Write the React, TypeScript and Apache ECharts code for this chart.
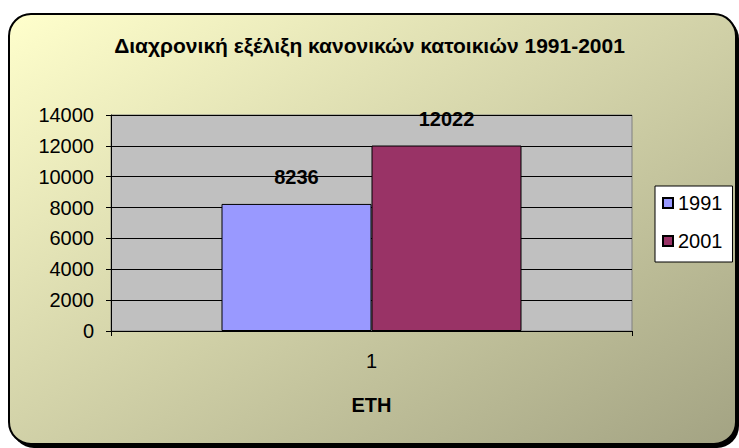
import React, { useEffect, useRef } from "react";
import * as echarts from "echarts";

const titleText = "Διαχρονική εξέλιξη κανονικών κατοικιών 1991-2001";
const categories = ["1"];
const seriesNames = ["1991", "2001"];
const values1991 = [8236];
const values2001 = [12022];
const xAxisName = "ΕΤΗ";

const FONT = "'Liberation Sans', Arial, sans-serif";

export default function App() {
  const ref = useRef<HTMLDivElement>(null);
  useEffect(() => {
    if (!ref.current) return;
    const chart = echarts.init(ref.current, null, { renderer: "svg" });
    const labelStyle = {
      show: true,
      position: "top" as const,
      distance: 17,
      fontFamily: FONT,
      fontSize: 20,
      fontWeight: "bold" as const,
      color: "#000",
    };
    chart.setOption({
      animation: false,
      textStyle: { fontFamily: FONT },
      graphic: [
        {
          type: "rect",
          z: -20,
          silent: true,
          shape: { x: 12, y: 17, width: 727, height: 431, r: 22 },
          style: { fill: "#000" },
        },
        {
          type: "rect",
          z: -10,
          silent: true,
          shape: { x: 9, y: 14, width: 727, height: 430, r: 22 },
          style: {
            fill: {
              type: "linear",
              x: 0,
              y: 0,
              x2: 1,
              y2: 1,
              colorStops: [
                { offset: 0, color: "#FFFFCC" },
                { offset: 1, color: "#A3A383" },
              ],
            },
            stroke: "#000",
            lineWidth: 2,
          },
        },
      ],
      title: {
        text: titleText,
        left: "center",
        top: 30,
        textStyle: { fontFamily: FONT, fontSize: 21, fontWeight: "bold", color: "#000" },
      },
      legend: {
        orient: "vertical",
        left: 655,
        top: 186,
        data: seriesNames,
        backgroundColor: "#fff",
        borderColor: "#000",
        borderWidth: 1,
        padding: [7, 10, 11, 7],
        itemGap: 18,
        itemWidth: 10,
        itemHeight: 10,
        itemTextGap: 12,
        icon: "rect",
        textStyle: { fontFamily: FONT, fontSize: 20, color: "#000" },
      },
      grid: {
        left: 111,
        top: 115,
        width: 521,
        height: 216,
        show: true,
        backgroundColor: "#C0C0C0",
        borderColor: "#808080",
        borderWidth: 1,
      },
      xAxis: {
        type: "category",
        data: categories,
        name: xAxisName,
        nameLocation: "middle",
        nameGap: 64,
        nameTextStyle: { fontFamily: FONT, fontSize: 20, fontWeight: "bold", color: "#000" },
        axisLine: { lineStyle: { color: "#000", width: 1 } },
        axisTick: { show: true, length: 5, lineStyle: { color: "#000" } },
        axisLabel: { margin: 20, fontFamily: FONT, fontSize: 20, color: "#000" },
      },
      yAxis: {
        type: "value",
        min: 0,
        max: 14000,
        interval: 2000,
        axisLine: { show: true, lineStyle: { color: "#000", width: 1 } },
        axisTick: { show: true, length: 5, lineStyle: { color: "#000" } },
        axisLabel: {
          margin: 17,
          fontFamily: FONT,
          fontSize: 20,
          color: "#000",
          formatter: (v: number) => String(v),
        },
        splitLine: { show: true, lineStyle: { color: "#000", width: 1 } },
      },
      series: [
        {
          name: seriesNames[0],
          type: "bar",
          data: values1991,
          barWidth: 150,
          barGap: "0%",
          itemStyle: { color: "#9999FF", borderColor: "#000", borderWidth: 1 },
          label: labelStyle,
        },
        {
          name: seriesNames[1],
          type: "bar",
          data: values2001,
          barWidth: 150,
          barGap: "0%",
          itemStyle: { color: "#993366", borderColor: "#000", borderWidth: 1 },
          label: labelStyle,
        },
      ],
    });
    return () => chart.dispose();
  }, []);
  return (
    <div
      ref={ref}
      style={{ position: "fixed", left: 0, top: 0, width: 739, height: 448, background: "#fff" }}
    />
  );
}
